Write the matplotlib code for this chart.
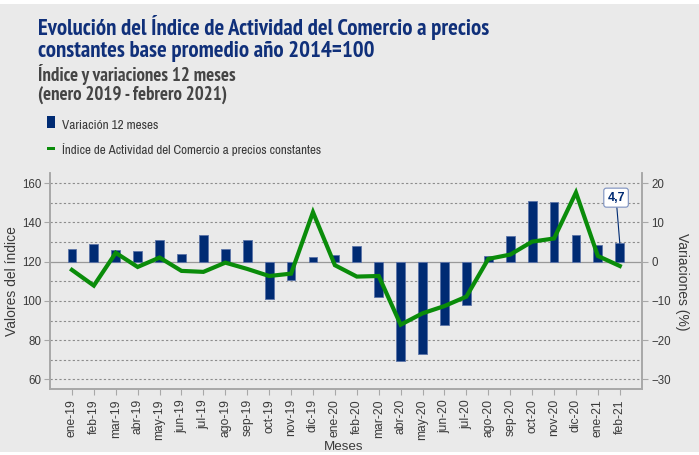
import matplotlib
matplotlib.use("Agg")
import matplotlib.pyplot as plt
import numpy as np

plt.rcParams['font.family'] = ['Liberation Sans', 'DejaVu Sans']
NARROW = ['Archivo Narrow', 'Liberation Sans', 'DejaVu Sans']
NARROW_B = ['PT Sans Narrow', 'Roboto Condensed', 'Liberation Sans', 'DejaVu Sans']

months = ["ene-19", "feb-19", "mar-19", "abr-19", "may-19", "jun-19", "jul-19",
          "ago-19", "sep-19", "oct-19", "nov-19", "dic-19", "ene-20", "feb-20",
          "mar-20", "abr-20", "may-20", "jun-20", "jul-20", "ago-20", "sep-20",
          "oct-20", "nov-20", "dic-20", "ene-21", "feb-21"]
variacion = [3.1, 4.4, 3.0, 2.6, 5.6, 2.0, 6.7, 3.1, 5.4, -9.4, -4.6, 1.1, 1.8,
             3.9, -9.1, -25.2, -23.6, -16.0, -11.1, 1.4, 6.6, 15.4, 15.3, 6.7,
             4.2, 4.7]
indice = [115.8, 107.8, 124.5, 117.3, 122.1, 115.3, 114.8, 119.5, 116.3, 112.7,
          113.9, 145.2, 118.2, 112.4, 112.7, 87.9, 93.7, 97.4, 102.2, 121.4,
          123.6, 130.2, 131.8, 155.2, 122.9, 117.8]
left_ticks = [60, 80, 100, 120, 140, 160]
right_ticks = [-30, -20, -10, 0, 10, 20]
last_label = "4,7"

bg = "#EAEAEA"
navy = "#002B73"
green = "#0A8C0A"
title_col = "#10307A"
grid_col = "#8C8C8C"
spine_col = "#A8A8A8"
txt = "#3A3A3A"

W, H = 699, 455
fig = plt.figure(figsize=(W / 100, H / 100), dpi=100)
fig.patch.set_facecolor(bg)
fig.patches.append(plt.Rectangle((0, 1 - 4 / H), 1, 4 / H, transform=fig.transFigure,
                                 facecolor="white", edgecolor="none", zorder=0))
fig.patches.append(plt.Rectangle((0, 0), 1, 3 / H, transform=fig.transFigure,
                                 facecolor="white", edgecolor="none", zorder=0))

ax = fig.add_axes([50 / W, 1 - 389.3 / H, (641.7 - 50) / W, (389.3 - 173.3) / H])
ax2 = ax.twinx()

x = np.arange(len(months))
ax.set_xlim(-1, len(months))
ax.set_ylim(55, 165)
ax2.set_ylim(-32.5, 22.5)

ax2.set_zorder(1)
ax.set_zorder(2)
ax.patch.set_visible(False)
ax2.patch.set_facecolor(bg)

for v in range(60, 161, 10):
    if v == 120:
        ax2.axhline(0, color="#999999", lw=0.9, zorder=1)
    else:
        ax2.axhline((v - 120) / 2, color=grid_col, lw=0.8, ls=(0, (2, 2)), zorder=1)

ax2.bar(x, variacion, width=0.4, color=navy, edgecolor="#5C74A8", linewidth=0.6, zorder=2)
ax.plot(x, indice, color=green, lw=3.0, solid_joinstyle="miter", zorder=3)

ax.set_yticks(left_ticks)
ax2.set_yticks(right_ticks)
ax.set_xticks(x)
ax.set_xticklabels(months, rotation=90, fontsize=8.7, color=txt)
ax.tick_params(axis="y", labelsize=8.3, colors=txt, length=4, color=spine_col, pad=2)
ax.tick_params(axis="x", length=4, color=spine_col, pad=3)
ax2.tick_params(axis="y", labelsize=8.3, colors=txt, length=4, color=spine_col, pad=3)

for a in (ax, ax2):
    a.spines["top"].set_visible(False)
    for s in ("left", "right", "bottom"):
        a.spines[s].set_color(spine_col)
        a.spines[s].set_linewidth(1.2)

ax.set_ylabel("Valores del índice", fontsize=10, color=txt, va="center")
ax.yaxis.set_label_coords((12 - 50) / 591.7, 0.5)
ax2.set_ylabel("Variaciones (%)", fontsize=10, color=txt, rotation=-90, va="center")
ax2.yaxis.set_label_coords((682 - 50) / 591.7, 0.5)
ax.set_xlabel("Meses", fontsize=9.6, color=txt, va="baseline")
ax.xaxis.set_label_coords((344 - 50) / 591.7, (389.3 - 450) / 216)

ax2.annotate(last_label, xy=(x[-1], variacion[-1]), xytext=(x[-1] - 0.17, 16.3),
             fontsize=9, fontweight="bold", color=navy, ha="center", va="center",
             bbox=dict(boxstyle="round,pad=0.28,rounding_size=0.2", fc="white", ec="#7A8FBF", lw=0.8),
             arrowprops=dict(arrowstyle="-", color=navy, lw=0.8, shrinkA=0, shrinkB=0),
             zorder=5)

def fy(py):
    return 1 - py / H

fig.text(38 / W, fy(35), "Evolución del Índice de Actividad del Comercio a precios",
         fontsize=16.4, fontweight="bold", color=title_col, va="baseline", ha="left", family=NARROW_B)
fig.text(38 / W, fy(57), "constantes base promedio año 2014=100",
         fontsize=16.4, fontweight="bold", color=title_col, va="baseline", ha="left", family=NARROW_B)
fig.text(38 / W, fy(80.7), "Índice y variaciones 12 meses",
         fontsize=13.6, fontweight="bold", color="#454545", va="baseline", ha="left", family=NARROW_B)
fig.text(38 / W, fy(100), "(enero 2019 - febrero 2021)",
         fontsize=13.6, fontweight="bold", color="#454545", va="baseline", ha="left", family=NARROW_B)

fig.patches.append(plt.Rectangle((46.7 / W, fy(128.3)), 8.3 / W, 12.6 / H, transform=fig.transFigure,
                                 facecolor=navy, edgecolor="none"))
fig.text(62 / W, fy(129), "Variación 12 meses", fontsize=9.5, color=txt, va="baseline", ha="left",
         family=NARROW)
fig.patches.append(plt.Rectangle((46.7 / W, fy(150.5)), 8.3 / W, 3 / H, transform=fig.transFigure,
                                 facecolor=green, edgecolor="none"))
fig.text(62 / W, fy(154), "Índice de Actividad del Comercio a precios constantes", fontsize=9.4,
         color=txt, va="baseline", ha="left", family=NARROW)

fig.savefig("out.png", dpi=100, facecolor=fig.get_facecolor())
